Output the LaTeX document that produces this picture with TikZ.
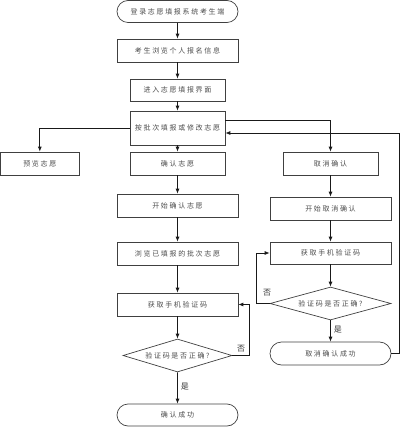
\documentclass[tikz,border=0pt]{standalone}
\usepackage{fontspec}
\newfontfamily\cjk[LetterSpace=24]{Noto Sans CJK SC}
\newfontfamily\cjkb{Noto Sans CJK SC}
\usetikzlibrary{shapes.geometric,shapes.misc,arrows.meta}
\begin{document}
\begin{tikzpicture}[x=1pt,y=-1pt,
  every node/.style={font=\cjk\fontsize{7}{9}\selectfont, text=black!70, inner sep=0pt},
  box/.style={draw=black!75, line width=0.7pt, rectangle, minimum height=23pt},
  term/.style={draw=black!75, line width=0.7pt, rounded rectangle, minimum height=22pt, minimum width=121pt},
  dec/.style={draw=black!75, line width=0.7pt, diamond, aspect=3.3},
  arr/.style={draw=black!90, line width=0.8pt, -{Latex[length=5pt,width=4pt]}},
  lbl/.style={font=\cjkb\fontsize{8}{9}\selectfont, text=black!80}]
\useasboundingbox (0,0) rectangle (400,427);
\node[term] (start) at (177.5,11.5) {登录志愿填报系统考生端};
\node[box, minimum width=121pt] (b2) at (177.5,50.5) {考生浏览个人报名信息};
\node[box, minimum width=95pt, minimum height=22pt] (b3) at (177.5,90) {进入志愿填报界面};
\node[box, minimum width=95pt, minimum height=34pt] (b4) at (177.5,128) {按批次填报或修改志愿};
\node[box, minimum width=79pt] (preview) at (39.8,163.5) {预览志愿};
\node[box, minimum width=95pt] (confirm) at (177.5,163.5) {确认志愿};
\node[box, minimum width=95pt] (cancel) at (330.5,163.5) {取消确认};
\node[box, minimum width=121pt] (startconf) at (177.5,205.5) {开始确认志愿};
\node[box, minimum width=121pt] (browse) at (177.5,253.5) {浏览已填报的批次志愿};
\node[box, minimum width=121pt] (code1) at (177.5,304.5) {获取手机验证码};
\node[dec, minimum width=109pt, minimum height=33pt] (dia1) at (177.5,355.5) {验证码是否正确?};
\node[term] (ok1) at (177.5,415) {确认成功};
\node[box, minimum width=121pt] (startcancel) at (330.5,208.5) {开始取消确认};
\node[box, minimum width=121pt, minimum height=22pt] (code2) at (330.5,253) {获取手机验证码};
\node[dec, minimum width=121pt, minimum height=33pt] (dia2) at (330.5,303.5) {验证码是否正确?};
\node[term, minimum height=23pt] (ok2) at (330.5,353.5) {取消确认成功};
\coordinate (fbr) at (399,353.5);
\coordinate (l1) at (249,355.5);
\coordinate (l2) at (256,303.5);
\draw[arr] (start) -- (b2);
\draw[arr] (b2) -- (b3);
\draw[arr] (b3) -- (b4);
\draw[arr] (b4) -- (confirm);
\draw[arr] (b4.west) -| (preview.north);
\draw[arr] ([yshift=8pt]b4.east) -| (cancel.north);
\draw[arr] (ok2.east) -- (fbr) |- ([yshift=-5pt]b4.east);
\draw[arr] (confirm) -- (startconf);
\draw[arr] (startconf) -- (browse);
\draw[arr] (browse) -- (code1);
\draw[arr] (code1) -- (dia1);
\draw[arr] (dia1) -- node[lbl, right=3pt, pos=0.45] {是} (ok1);
\draw[arr] (dia1.east) -- (l1) |- (code1.east);
\node[lbl] (no1) at (241,349) {否};
\draw[arr] (cancel) -- (startcancel);
\draw[arr] (startcancel) -- (code2);
\draw[arr] (code2) -- (dia2);
\draw[arr] (dia2) -- node[lbl, right=3pt, pos=0.45] {是} (ok2);
\draw[arr] (dia2.west) -- (l2) |- (code2.west);
\node[lbl] (no2) at (267,293) {否};
\end{tikzpicture}
\end{document}
